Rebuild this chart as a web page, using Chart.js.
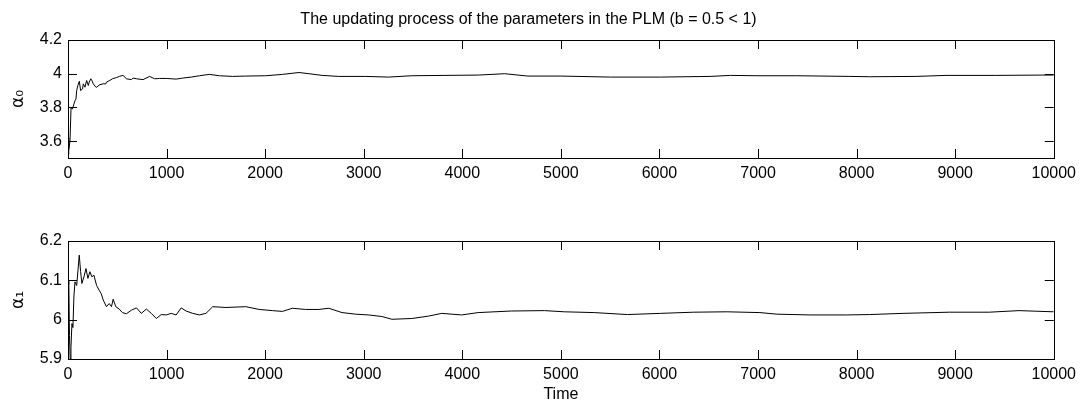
<!DOCTYPE html>
<html lang="en">
<head>
    <meta charset="UTF-8">
    <title>PLM parameter updating</title>
    <script src="https://cdn.jsdelivr.net/npm/chart.js"></script>
    <style>
        body { margin: 0; background: #fff; }
        #wrap { position: relative; width: 1082px; height: 402px; }
        .box { position: absolute; left: 0; width: 1082px; }
    </style>
</head>
<body>
    <div id="wrap">
        <div class="box" style="top:0;height:200px"><canvas id="topChart"></canvas></div>
        <div class="box" style="top:200px;height:202px"><canvas id="bottomChart"></canvas></div>
    </div>
    <script>
        // time steps and estimated parameter values
        const t0 = [0, 5, 10, 20, 31, 45, 60, 71, 81, 88, 100, 115, 128, 148, 155, 172, 189, 206, 215, 232, 239, 256, 283, 290, 323, 357, 384, 390, 424, 451, 491, 525, 558, 593, 643, 660, 694, 761, 828, 879, 929, 996, 1097, 1162, 1250, 1333, 1434, 1535, 1670, 1800, 2006, 2175, 2343, 2444, 2578, 2746, 3015, 3250, 3488, 3824, 4161, 4430, 4666, 5000, 5505, 6010, 6514, 6720, 6989, 7393, 7931, 8133, 8604, 8907, 9412, 9883, 10000];
        const a0 = [3.52, 3.62, 3.55, 3.60, 3.80, 3.79, 3.82, 3.84, 3.85, 3.90, 3.93, 3.955, 3.90, 3.91, 3.94, 3.92, 3.96, 3.93, 3.95, 3.97, 3.965, 3.94, 3.92, 3.92, 3.935, 3.94, 3.94, 3.95, 3.96, 3.97, 3.977, 3.985, 3.99, 3.97, 3.965, 3.974, 3.97, 3.965, 3.984, 3.97, 3.972, 3.972, 3.968, 3.974, 3.98, 3.988, 3.996, 3.988, 3.984, 3.986, 3.988, 3.996, 4.007, 4.0, 3.99, 3.984, 3.984, 3.98, 3.988, 3.99, 3.992, 4.0, 3.986, 3.986, 3.98, 3.98, 3.984, 3.99, 3.988, 3.988, 3.984, 3.982, 3.984, 3.99, 3.99, 3.992, 3.992];

        const t1 = [0, 8, 15, 22, 30, 40, 50, 60, 71, 88, 104, 114, 128, 141, 162, 182, 202, 222, 242, 263, 290, 316, 337, 357, 390, 418, 441, 458, 485, 519, 552, 592, 643, 694, 744, 795, 845, 896, 946, 997, 1047, 1097, 1148, 1198, 1265, 1333, 1400, 1468, 1602, 1804, 1939, 2073, 2175, 2276, 2410, 2545, 2646, 2780, 2915, 3050, 3185, 3286, 3488, 3656, 3791, 3993, 4161, 4498, 4834, 5035, 5338, 5675, 6010, 6347, 6683, 7019, 7191, 7528, 7898, 8133, 8470, 8941, 9345, 9648, 10000];
        const a1 = [6.09, 6.10, 5.96, 5.90, 5.93, 5.99, 5.98, 6.06, 6.096, 6.087, 6.134, 6.164, 6.122, 6.092, 6.109, 6.13, 6.105, 6.122, 6.109, 6.113, 6.087, 6.075, 6.066, 6.05, 6.033, 6.041, 6.033, 6.052, 6.033, 6.027, 6.018, 6.015, 6.024, 6.03, 6.016, 6.027, 6.016, 6.003, 6.013, 6.012, 6.016, 6.012, 6.03, 6.022, 6.016, 6.012, 6.016, 6.033, 6.031, 6.033, 6.026, 6.023, 6.021, 6.029, 6.026, 6.026, 6.029, 6.018, 6.014, 6.012, 6.008, 6.001, 6.003, 6.009, 6.016, 6.012, 6.018, 6.022, 6.023, 6.02, 6.018, 6.013, 6.016, 6.019, 6.02, 6.018, 6.014, 6.012, 6.012, 6.013, 6.016, 6.019, 6.019, 6.023, 6.02];

        const xTicks = [0, 1000, 2000, 3000, 4000, 5000, 6000, 7000, 8000, 9000, 10000];
        const yTicks0 = [3.6, 3.8, 4, 4.2];
        const yTicks1 = [5.9, 6, 6.1, 6.2];

        const FONT = 'Liberation Sans, Arial, sans-serif';

        // MATLAB style box with inward tick marks
        const boxTicks = {
            id: 'boxTicks',
            afterDraw(chart) {
                const { ctx, chartArea: a, scales } = chart;
                const len = 9;
                ctx.save();
                ctx.strokeStyle = '#000';
                ctx.lineWidth = 1;
                ctx.beginPath();
                scales.x.ticks.forEach(tk => {
                    const px = Math.round(scales.x.getPixelForValue(tk.value)) + 0.5;
                    ctx.moveTo(px, a.bottom); ctx.lineTo(px, a.bottom - len);
                    ctx.moveTo(px, a.top); ctx.lineTo(px, a.top + len);
                });
                scales.y.ticks.forEach(tk => {
                    const py = Math.round(scales.y.getPixelForValue(tk.value)) + 0.5;
                    ctx.moveTo(a.left, py); ctx.lineTo(a.left + len, py);
                    ctx.moveTo(a.right, py); ctx.lineTo(a.right - len, py);
                });
                ctx.stroke();
                ctx.strokeRect(Math.round(a.left) + 0.5, Math.round(a.top) + 0.5,
                    Math.round(a.right - a.left), Math.round(a.bottom - a.top));
                ctx.restore();
            }
        };

        function makeChart(id, ts, vals, yMin, yMax, yTicks, yLabel, opts) {
            return new Chart(document.getElementById(id), {
                type: 'scatter',
                data: {
                    datasets: [{
                        data: ts.map((t, i) => ({ x: t, y: vals[i] })),
                        showLine: true,
                        borderColor: '#000',
                        borderWidth: 1,
                        pointRadius: 0,
                        tension: 0
                    }]
                },
                options: {
                    responsive: true,
                    maintainAspectRatio: false,
                    animation: false,
                    layout: { padding: { left: 0, right: 25, top: opts.padTop, bottom: 0 } },
                    plugins: {
                        legend: { display: false },
                        tooltip: { enabled: false },
                        title: opts.title ? {
                            display: true,
                            text: opts.title,
                            color: '#000',
                            font: { family: FONT, size: 16, weight: 'normal', lineHeight: 1 },
                            padding: { top: 12, bottom: 12 }
                        } : { display: false }
                    },
                    scales: {
                        x: {
                            type: 'linear',
                            min: 0,
                            max: 10000,
                            afterBuildTicks: s => { s.ticks = xTicks.map(v => ({ value: v })); },
                            afterFit: s => { s.height = opts.xHeight; },
                            grid: { display: false, drawTicks: false },
                            border: { display: false },
                            ticks: {
                                color: '#000',
                                padding: 6,
                                maxRotation: 0,
                                font: { family: FONT, size: 16 },
                                callback: v => String(v)
                            },
                            title: opts.xTitle ? {
                                display: true,
                                text: opts.xTitle,
                                color: '#000',
                                font: { family: FONT, size: 16, lineHeight: 1 },
                                padding: { top: 0, bottom: -1 }
                            } : { display: false }
                        },
                        y: {
                            min: yMin,
                            max: yMax,
                            afterBuildTicks: s => { s.ticks = yTicks.map(v => ({ value: v })); },
                            afterFit: s => { s.width = 68; },
                            grid: { display: false, drawTicks: false },
                            border: { display: false },
                            ticks: {
                                color: '#000',
                                padding: 6,
                                font: { family: FONT, size: 16 },
                                callback: v => String(+v.toFixed(2))
                            },
                            title: {
                                display: true,
                                text: yLabel,
                                color: '#000',
                                font: { family: 'DejaVu Sans, sans-serif', size: 17, lineHeight: 1 },
                                padding: { top: 10, bottom: 0 }
                            }
                        }
                    }
                },
                plugins: [boxTicks]
            });
        }

        makeChart('topChart', t0, a0, 3.5, 4.2, yTicks0, 'α₀', {
            title: 'The updating process of the parameters in the PLM (b = 0.5 < 1)',
            padTop: 0, xHeight: 42
        });
        makeChart('bottomChart', t1, a1, 5.9, 6.2, yTicks1, 'α₁', {
            xTitle: 'Time',
            padTop: 41, xHeight: 43
        });
    </script>
</body>
</html>
